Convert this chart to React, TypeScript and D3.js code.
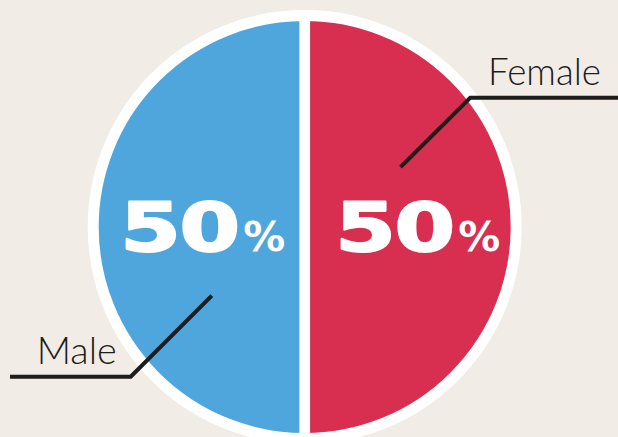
import React, { useEffect, useRef } from 'react';
import * as d3 from 'd3';

const categories = ['Female', 'Male'];
const shares = [50, 50];
const sliceColors = ['#d82e50', '#4ea6dd'];
const shareLabels = ['50', '50'];

// leader lines: angle (deg, clockwise from top) and radius of the inner tip and the elbow
const leaders = [
  { tipAngle: 58, tipR: 113, elbowAngle: 52, elbowR: 210, endX: 618, side: 1 },
  { tipAngle: 233.5, tipR: 115.5, elbowAngle: 229.3, elbowR: 229.5, endX: 10, side: -1 },
];

const W = 618;
const H = 437;

export default function App() {
  const svgRef = useRef<SVGSVGElement>(null);

  useEffect(() => {
    if (!svgRef.current) return;
    const svg = d3.select(svgRef.current);
    svg.selectAll('*').remove();

    const cx = 304.7;
    const cy = 227;
    const rColor = 206;
    const gapW = 10.7;
    const rRing = 217;

    svg.append('rect').attr('width', W).attr('height', H).attr('fill', '#f1ece6');

    const g = svg.append('g').attr('transform', `translate(${cx},${cy})`);

    g.append('circle').attr('r', rRing).attr('fill', '#ffffff');

    const pie = d3.pie<number>().sort(null).value(d => d);
    const arcs = pie(shares);
    const arc = d3.arc<d3.PieArcDatum<number>>()
      .innerRadius(0)
      .outerRadius(rColor + gapW / 2);

    g.selectAll('path.slice')
      .data(arcs)
      .join('path')
      .attr('class', 'slice')
      .attr('d', arc)
      .attr('fill', (_, i) => sliceColors[i])
      .attr('stroke', '#ffffff')
      .attr('stroke-width', gapW);

    // big percentage labels (wide heavy type, faked by stretching a bold face)
    const labelArc = d3.arc<d3.PieArcDatum<number>>().innerRadius(0).outerRadius(rColor);
    const shift = [10, 1];
    const sx = 1.3;
    arcs.forEach((a, i) => {
      const [x] = labelArc.centroid(a);
      const x0 = x + shift[i] - 82.5;
      const tg = g.append('g').attr('transform', `translate(${x0},23.7) scale(${sx},1)`);
      tg.append('text')
        .attr('x', 0)
        .attr('y', 0)
        .attr('font-family', 'DejaVu Sans, sans-serif')
        .attr('font-weight', 700)
        .attr('font-size', 67)
        .attr('fill', '#ffffff')
        .attr('stroke', '#ffffff')
        .attr('stroke-width', 2)
        .attr('stroke-linejoin', 'round')
        .attr('letter-spacing', -1)
        .text(shareLabels[i]);
      tg.append('text')
        .attr('x', 123 / sx)
        .attr('y', 0)
        .attr('font-family', 'DejaVu Sans, sans-serif')
        .attr('font-weight', 700)
        .attr('font-size', 41)
        .attr('fill', '#ffffff')
        .attr('textLength', 42 / sx)
        .attr('lengthAdjust', 'spacingAndGlyphs')
        .text('%');
    });

    // leader lines + category labels
    const polar = (deg: number, r: number) => {
      const t = (deg * Math.PI) / 180;
      return [Math.sin(t) * r, -Math.cos(t) * r];
    };
    leaders.forEach((l, i) => {
      const tip = polar(l.tipAngle, l.tipR);
      const elbow = polar(l.elbowAngle, l.elbowR);
      const end = [l.endX - cx, elbow[1]];
      g.append('path')
        .attr('d', d3.line()([tip as [number, number], elbow as [number, number], end as [number, number]]))
        .attr('fill', 'none')
        .attr('stroke', '#1d1d1b')
        .attr('stroke-width', 4);

      const txt = g.append('text')
        .attr('font-family', 'Lato, sans-serif')
        .attr('font-weight', 300)
        .attr('font-size', 37)
        .attr('fill', '#1d1d1b')
        .attr('y', elbow[1] - 12.5)
        .attr('lengthAdjust', 'spacingAndGlyphs')
        .text(categories[i]);
      if (l.side > 0) {
        txt.attr('x', 488 - cx).attr('textLength', 113);
      } else {
        txt.attr('x', 36.7 - cx).attr('textLength', 80);
      }
    });
  }, []);

  return (
    <svg
      ref={svgRef}
      width={W}
      height={H}
      style={{ position: 'absolute', left: 0, top: 0, display: 'block' }}
    />
  );
}
